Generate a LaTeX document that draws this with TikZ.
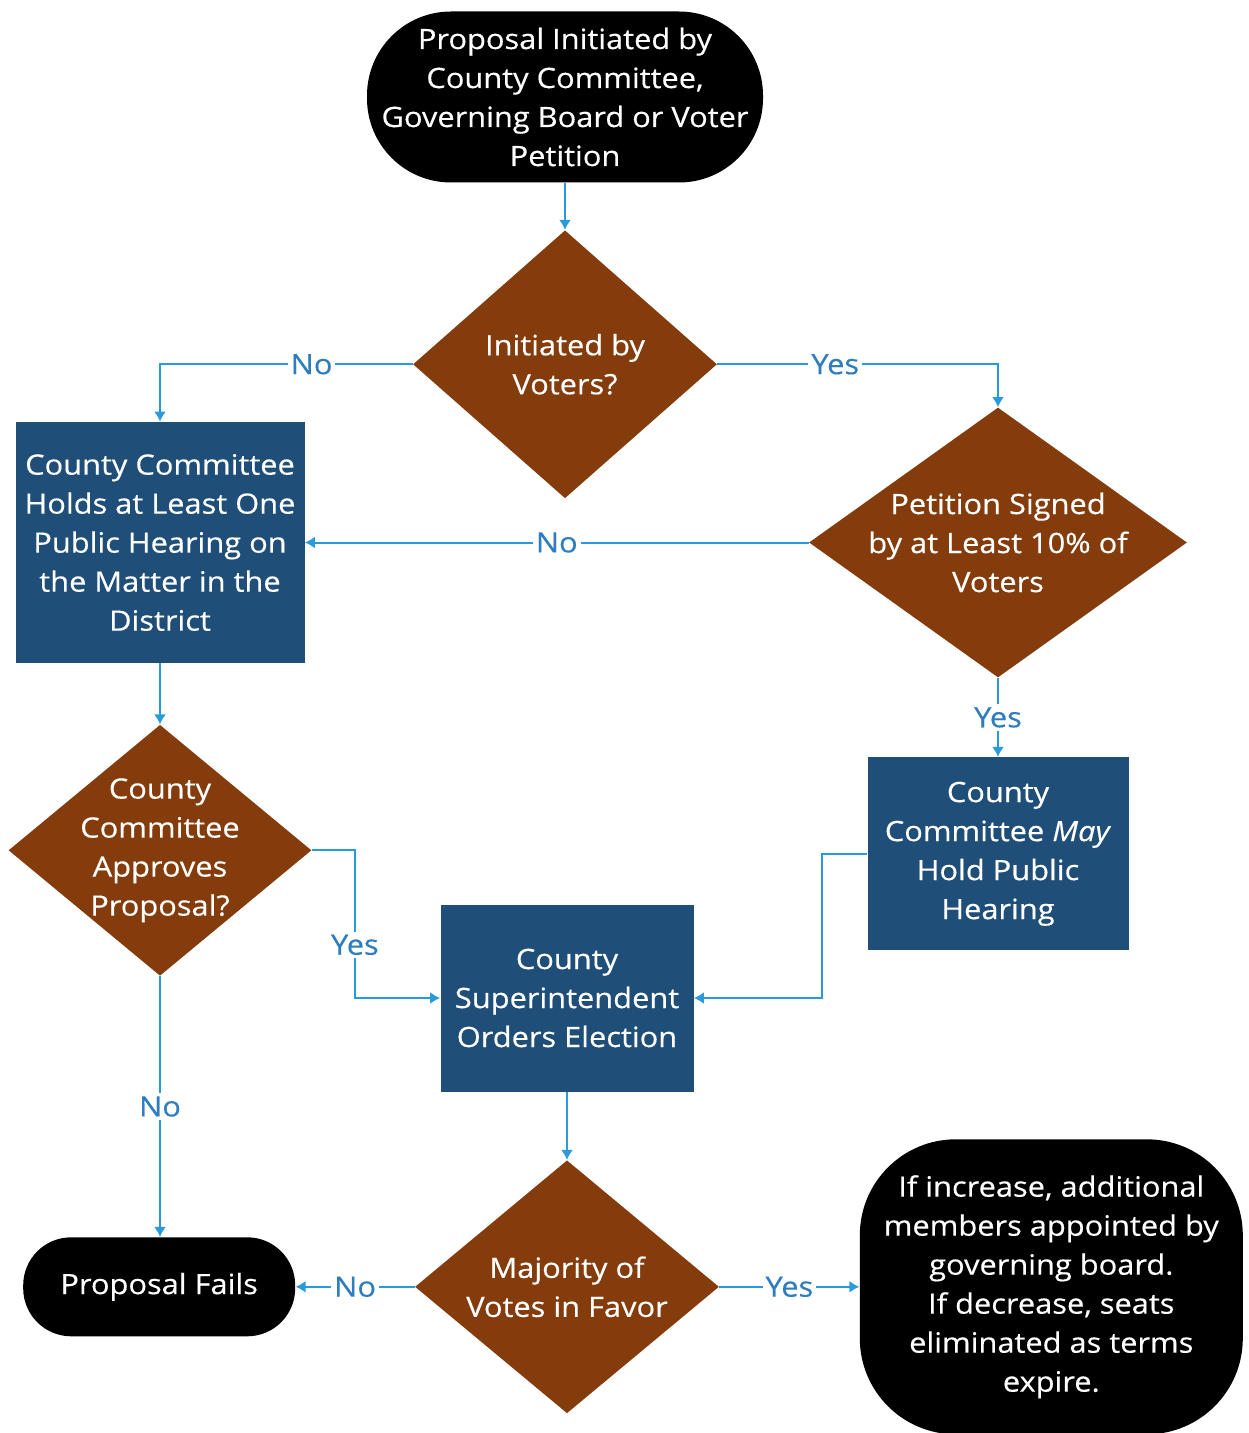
\documentclass[tikz,border=0pt]{standalone}
\usepackage{fontspec}
\setmainfont{Open Sans}[FakeStretch=1.1,FakeBold=0.4]
\usetikzlibrary{positioning,arrows.meta,shapes.geometric}
\definecolor{decbrown}{RGB}{132,60,12}
\definecolor{stepblue}{RGB}{31,78,121}
\definecolor{linkblue}{RGB}{41,155,220}
\definecolor{lblblue}{RGB}{46,125,190}

\begin{document}
\begin{tikzpicture}
    [x=0.5pt,y=-0.5pt,
     font=\fontsize{14}{19.5}\selectfont,
     >={Latex[length=5pt,width=6pt]},
     term/.style={rectangle,fill=black,text=white,align=center,inner sep=0pt},
     decision/.style={diamond,fill=decbrown,text=white,align=center,inner sep=0pt},
     action/.style={rectangle,fill=stepblue,text=white,align=center,inner sep=0pt},
     link/.style={draw=linkblue,line width=1pt},
     answer/.style={fill=white,text=lblblue,inner sep=1.5pt}]

    \useasboundingbox (0,0) rectangle (1248,1433);

    \node[term,minimum width=198pt,minimum height=85.5pt,rounded corners=42pt] (start) at (565,97)
      {Proposal Initiated by\\County Committee,\\Governing Board or Voter\\Petition};

    \node[decision,minimum width=152pt,minimum height=134pt] (voters) [below=23.5pt of start]
      {Initiated by\\Voters?}
      edge [link,<-] (start);

    \node[action,minimum width=144.5pt,minimum height=120.5pt] (hearing) at (160,542.5)
      {County Committee\\Holds at Least One\\Public Hearing on\\the Matter in the\\District};

    \node[decision,minimum width=189pt,minimum height=135pt,shape aspect=1.4,inner sep=-4pt] (petition) at (998,542.5)
      {Petition Signed\\by at Least 10\% of\\Voters};

    \node[action,minimum width=130.5pt,minimum height=96.5pt] (mayhear) [below=39.5pt of petition]
      {County\\Committee \textit{May}\\Hold Public\\Hearing}
      edge [link,<-] node [answer] {Yes} (petition);

    \node[decision,minimum width=151.5pt,minimum height=125.5pt,shape aspect=1.2,inner sep=-6pt] (approve) [below=30.5pt of hearing]
      {County\\Committee\\Approves\\Proposal?}
      edge [link,<-] (hearing);

    \node[action,minimum width=126.5pt,minimum height=93.5pt] (election) at (567,998)
      {County\\Superintendent\\Orders Election};

    \node[decision,minimum width=152pt,minimum height=126.5pt,shape aspect=1.2] (majority) [below=34pt of election]
      {Majority of\\Votes in Favor}
      edge [link,<-] (election);

    \node[term,minimum width=136pt,minimum height=49.5pt,rounded corners=24pt] (fails) [left=59.5pt of majority]
      {Proposal Fails};

    \node[term,minimum width=191.5pt,minimum height=147.5pt,rounded corners=48pt] (outcome) [right=70pt of majority]
      {If increase, additional\\members appointed by\\governing board.\\If decrease, seats\\eliminated as terms\\expire.};

    % yes / no branches
    \draw[link,->] (voters.west) -| node[answer,pos=0.2] {No} (hearing.north);
    \draw[link,->] (voters.east) -| node[answer,pos=0.21] {Yes} (petition.north);
    \draw[link,->] (petition.west) -- node[answer] {No} (hearing.east);
    \draw[link,->] (approve.east) -- ++(43,0) |- node[answer,pos=0.32] {Yes} (election.west);
    \draw[link,->] (mayhear.west) -- ++(-45,0) |- (election.east);
    \draw[link,->] (approve.south) -- node[answer] {No} (approve.south |- fails.north);
    \draw[link,->] (majority.west) -- node[answer] {No} (fails.east);
    \draw[link,->] (majority.east) -- node[answer] {Yes} (outcome.west);
\end{tikzpicture}
\end{document}
